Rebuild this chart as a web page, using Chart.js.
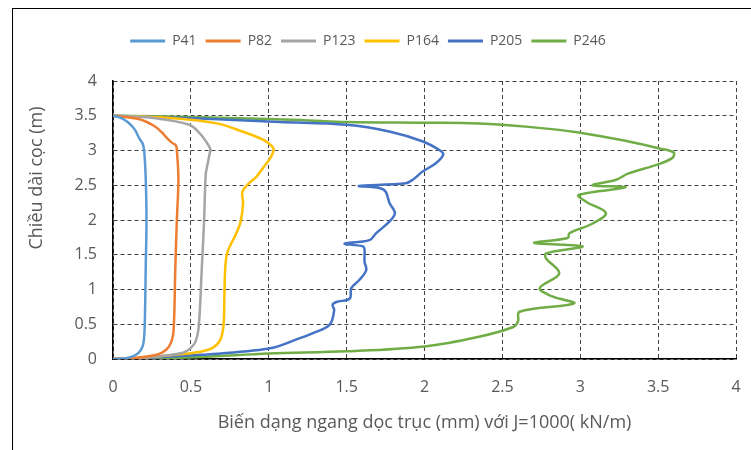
<!DOCTYPE html>
<html>
<head>
<meta charset="utf-8">
<script src="https://cdn.jsdelivr.net/npm/chart.js@4.4.1/dist/chart.umd.min.js"></script>
<style>
  body { margin: 0; background: #fff; }
</style>
</head>
<body>
<canvas id="chart" width="751" height="450"></canvas>
<script>
// series names + colours (Excel default palette)
const seriesNames = ['P41', 'P82', 'P123', 'P164', 'P205', 'P246'];
const seriesColors = ['#5B9BD5', '#ED7D31', '#A5A5A5', '#FFC000', '#4472C4', '#70AD47'];

// tick values and labels of both axes
const xTicks = [0, 0.5, 1, 1.5, 2, 2.5, 3, 3.5, 4];
const xTickLabels = ['0', '0.5', '1', '1.5', '2', '2.5', '3', '3.5', '4'];
const yTicks = [0, 0.5, 1, 1.5, 2, 2.5, 3, 3.5, 4];
const yTickLabels = ['0', '0.5', '1', '1.5', '2', '2.5', '3', '3.5', '4'];

// displacement (mm) / depth (m)
const p41X = [0, 0.05, 0.1, 0.14, 0.17, 0.19, 0.2, 0.21, 0.215, 0.21, 0.205, 0.2, 0.19, 0.16, 0.1, 0];
const p41Y = [3.5, 3.47, 3.4, 3.3, 3.17, 3.1, 3.0, 2.6, 2.0, 1.3, 0.6, 0.32, 0.18, 0.08, 0.02, 0];

const p82X = [0, 0.17, 0.26, 0.31, 0.35, 0.38, 0.405, 0.41, 0.42, 0.41, 0.4, 0.39, 0.375, 0.34, 0.28, 0.14, 0];
const p82Y = [3.5, 3.45, 3.36, 3.27, 3.17, 3.11, 3.07, 3.0, 2.6, 2.0, 1.3, 0.45, 0.25, 0.13, 0.06, 0.015, 0];

const p123X = [0, 0.25, 0.49, 0.56, 0.6, 0.625, 0.62, 0.605, 0.595, 0.585, 0.57, 0.55, 0.53, 0.5, 0.45, 0.3, 0.12, 0];
const p123Y = [3.5, 3.47, 3.37, 3.24, 3.12, 3.02, 2.95, 2.78, 2.65, 2.0, 1.3, 0.45, 0.25, 0.16, 0.09, 0.04, 0.01, 0];

const p164X = [0, 0.35, 0.665, 0.835, 0.94, 0.99, 1.03, 1.017, 0.97, 0.92, 0.86, 0.83, 0.835, 0.82, 0.79, 0.75, 0.73, 0.72, 0.715, 0.71, 0.69, 0.64, 0.55, 0.4, 0.2, 0];
const p164Y = [3.5, 3.47, 3.39, 3.27, 3.18, 3.12, 3.03, 2.92, 2.77, 2.62, 2.5, 2.4, 2.24, 1.98, 1.8, 1.62, 1.5, 1.28, 0.9, 0.5, 0.28, 0.16, 0.1, 0.06, 0.02, 0];

const p205X = [0, 0.56, 1.07, 1.5, 1.78, 1.99, 2.1, 2.12, 2.075, 1.99, 1.925, 1.88, 1.58, 1.71, 1.75, 1.776, 1.81, 1.776, 1.69, 1.647, 1.487, 1.605, 1.615, 1.615, 1.626, 1.583, 1.53, 1.52, 1.434, 1.41, 1.42, 1.39, 1.28, 1.2, 1.0, 0.56, 0.2, 0];
const p205Y = [3.5, 3.46, 3.41, 3.37, 3.27, 3.13, 3.0, 2.94, 2.82, 2.7, 2.58, 2.53, 2.49, 2.46, 2.41, 2.24, 2.1, 1.98, 1.81, 1.71, 1.66, 1.62, 1.57, 1.4, 1.28, 1.14, 1.02, 0.87, 0.82, 0.78, 0.7, 0.49, 0.37, 0.3, 0.15, 0.06, 0.015, 0];

const p246X = [0, 0.56, 1.2, 1.5, 2.0, 2.35, 2.67, 2.99, 3.31, 3.51, 3.6, 3.59, 3.485, 3.31, 3.23, 3.08, 3.29, 2.99, 3.04, 3.165, 3.08, 2.93, 2.92, 2.705, 3.015, 2.78, 2.78, 2.865, 2.74, 2.82, 2.96, 2.61, 2.6, 2.57, 2.35, 2.0, 1.5, 1.0, 0.56, 0];
const p246Y = [3.5, 3.48, 3.44, 3.41, 3.4, 3.39, 3.34, 3.26, 3.13, 3.03, 2.97, 2.89, 2.79, 2.67, 2.58, 2.5, 2.47, 2.36, 2.26, 2.1, 1.95, 1.81, 1.74, 1.67, 1.62, 1.52, 1.45, 1.23, 1.02, 0.9, 0.8, 0.68, 0.54, 0.46, 0.32, 0.18, 0.11, 0.08, 0.03, 0];

const seriesX = [p41X, p82X, p123X, p164X, p205X, p246X];
const seriesY = [p41Y, p82Y, p123Y, p164Y, p205Y, p246Y];

const textColor = '#595959';
Chart.defaults.font.family = "'Open Sans', sans-serif";
Chart.defaults.color = textColor;

function toPoints(xs, ys) {
    return xs.map((x, i) => ({ x: x, y: ys[i] }));
}

const datasets = seriesNames.map((name, i) => ({
    label: name,
    data: toPoints(seriesX[i], seriesY[i]),
    borderColor: seriesColors[i],
    backgroundColor: seriesColors[i],
    borderWidth: 2.5,
    pointRadius: 0,
    showLine: true,
    tension: 0.35
}));

// outer frame + rotated y title (sits above the axis middle in the original)
const decor = {
    id: 'decor',
    beforeLayout(chart) {
        if (chart.legend && !chart.legend._fixed) {
            const fit = chart.legend.fit;
            chart.legend.fit = function () {
                fit.call(this);
                this.height = 56;
            };
            chart.legend._fixed = true;
        }
    },
    beforeDraw(chart) {
        const ctx = chart.ctx;
        ctx.save();
        ctx.fillStyle = '#fff';
        ctx.fillRect(0, 0, chart.width, chart.height);
        ctx.strokeStyle = '#000';
        ctx.lineWidth = 1;
        ctx.strokeRect(12.5, 8.5, 800, 500);
        ctx.restore();
    },
    afterDraw(chart) {
        const ctx = chart.ctx;
        ctx.save();
        ctx.translate(37, 178);
        ctx.rotate(-Math.PI / 2);
        ctx.font = "18px 'Open Sans', sans-serif";
        ctx.fillStyle = textColor;
        ctx.textAlign = 'center';
        ctx.textBaseline = 'middle';
        ctx.fillText('Chiều dài cọc (m)', 0, 0);
        ctx.restore();
    }
};

new Chart(document.getElementById('chart'), {
    type: 'scatter',
    data: { datasets: datasets },
    plugins: [decor],
    options: {
        responsive: false,
        animation: false,
        devicePixelRatio: 1,
        layout: { padding: { top: 25, right: 15, bottom: 0, left: 0 } },
        plugins: {
            tooltip: { enabled: false },
            legend: {
                position: 'top',
                labels: {
                    boxWidth: 35,
                    boxHeight: 3,
                    padding: 9,
                    font: { size: 14 },
                    color: textColor,
                    generateLabels(chart) {
                        return Chart.defaults.plugins.legend.labels.generateLabels(chart)
                            .map(l => ({ ...l, lineWidth: 0, strokeStyle: 'rgba(0,0,0,0)' }));
                    }
                }
            }
        },
        scales: {
            x: {
                type: 'linear',
                min: 0,
                max: 4,
                afterBuildTicks: s => { s.ticks = xTicks.map(v => ({ value: v })); },
                afterFit: s => {
                    s.height = 91;
                    s.paddingLeft = 0;   // tick padding would otherwise eat into the right edge
                    s.paddingRight = 0;
                },
                ticks: {
                    font: { size: 16 }, padding: 19, color: textColor,
                    callback: (v, i) => xTickLabels[i]
                },
                grid: { color: '#404040', lineWidth: 1, drawTicks: false },
                border: { display: true, color: '#000', width: 1.5, dash: [4, 3] },
                title: {
                    display: true,
                    text: 'Biến dạng ngang dọc trục (mm) với J=1000( kN/m)',
                    font: { size: 18 },
                    color: textColor,
                    padding: { top: 0, bottom: 16 }
                }
            },
            y: {
                type: 'linear',
                min: 0,
                max: 4,
                afterBuildTicks: s => { s.ticks = yTicks.map(v => ({ value: v })); },
                afterFit: s => { s.width = 113; },
                ticks: {
                    font: { size: 16 }, padding: 16, color: textColor,
                    callback: (v, i) => yTickLabels[i]
                },
                grid: { color: '#404040', lineWidth: 1, drawTicks: false },
                border: { display: true, color: '#000', width: 1.5, dash: [4, 3] }
            }
        }
    }
});
</script>
</body>
</html>
